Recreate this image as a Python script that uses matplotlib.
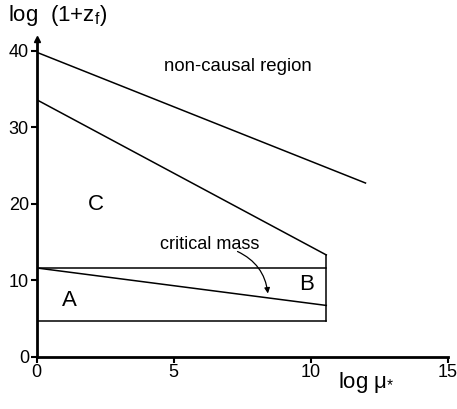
import numpy as np
import matplotlib
matplotlib.use('Agg')
import matplotlib.pyplot as plt

plt.rcParams['font.family'] = ['Liberation Sans', 'DejaVu Sans']
plt.rcParams['mathtext.fontset'] = 'custom'
plt.rcParams['mathtext.rm'] = 'Liberation Sans'
plt.rcParams['mathtext.it'] = 'Liberation Sans'

# boundary lines (log mu, log(1+z_f))
causal_x = [0, 12.0]
causal_y = [39.8, 22.7]
upper_x = [0, 10.57]
upper_y = [33.6, 13.3]
crit_x = [0, 10.57]
crit_y = [11.6, 6.7]
top_box_x = [0, 10.57]
top_box_y = [11.6, 11.6]
low_box_x = [0, 10.57]
low_box_y = [4.7, 4.7]
edge_x = [10.57, 10.57]
edge_y = [4.7, 13.3]

xticks = [0, 5, 10, 15]
yticks = [0, 10, 20, 30, 40]

fig = plt.figure(figsize=(4.57, 4.09), dpi=100)
ax = fig.add_axes([0.0799, 0.1279, 0.8998, 0.7763])

for xs, ys in [(causal_x, causal_y), (upper_x, upper_y), (crit_x, crit_y),
               (top_box_x, top_box_y), (low_box_x, low_box_y), (edge_x, edge_y)]:
    ax.plot(xs, ys, color='black', lw=1.1)

ax.set_xlim(0, 15)
ax.set_ylim(0, 41.5)
ax.set_xticks(xticks)
ax.set_yticks(yticks)
ax.tick_params(labelsize=13, length=4, width=1.5, pad=1.5)
for s in ['top', 'right']:
    ax.spines[s].set_visible(False)
for s in ['left', 'bottom']:
    ax.spines[s].set_linewidth(2)
ax.plot([0], [41.5], marker='^', color='black', markersize=5, clip_on=False)

ax.text(7.35, 37.9, 'non-causal region', fontsize=13.4, ha='center', va='center')
ax.text(2.17, 19.9, 'C', fontsize=16, ha='center', va='center')
ax.text(1.19, 7.4, 'A', fontsize=16, ha='center', va='center')
ax.text(9.84, 9.5, 'B', fontsize=16, ha='center', va='center')
ax.text(6.33, 14.6, 'critical mass', fontsize=13, ha='center', va='center')
ax.annotate('', xy=(8.45, 7.9), xytext=(7.24, 13.9),
            arrowprops=dict(arrowstyle='-|>', color='black', lw=0.9,
                            mutation_scale=8,
                            connectionstyle='arc3,rad=-0.3'))

fig.text(0.018, 0.963, r'log  (1+z$_{\mathregular{f}}$)', fontsize=16, va='center')
fig.text(0.74, 0.066, r'log $\mathregular{\mu}_{\mathregular{*}}$', fontsize=16, va='center')

fig.savefig('out.png', dpi=100)
